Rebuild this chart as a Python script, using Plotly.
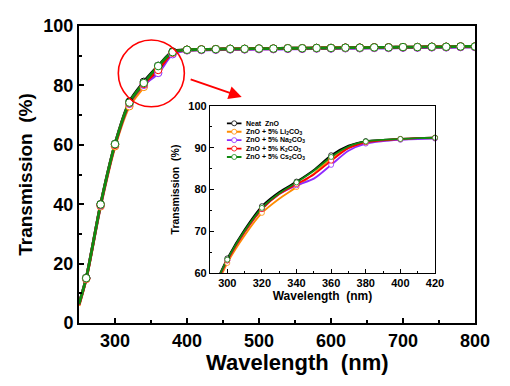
import plotly.graph_objects as go

# ---------------- data ----------------
series_names = [
    "Neat\u00a0 ZnO",
    "ZnO + 5% Li<sub>2</sub>CO<sub>3</sub>",
    "ZnO + 5% Na<sub>2</sub>CO<sub>3</sub>",
    "ZnO + 5% K<sub>2</sub>CO<sub>3</sub>",
    "ZnO + 5% Cs<sub>2</sub>CO<sub>3</sub>",
]
series_colors = ["#000000", "#FF8C00", "#8F2BFF", "#FF0000", "#118A11"]

# main panel (250-800 nm)
main_wl = [250, 260, 280, 300, 320, 340, 360, 380, 400, 420, 440, 460, 480, 500,
           520, 540, 560, 580, 600, 620, 640, 660, 680, 700, 720, 740, 760, 780, 800]
plateau = [92.1, 92.2, 92.3, 92.3, 92.4, 92.4, 92.5, 92.5, 92.6, 92.6, 92.7,
           92.7, 92.8, 92.8, 92.9, 92.9, 93.0, 93.0, 93.1, 93.1]
main_neat = [6.5, 15.2, 40.0, 60.3, 74.5, 81.2, 86.6, 91.4, 92.0] + plateau
main_li = [5.8, 14.8, 39.3, 59.5, 73.0, 79.5, 85.8, 90.8, 91.9] + [v - 0.1 for v in plateau]
main_na = [6.2, 15.0, 39.6, 60.0, 73.8, 80.2, 84.2, 90.5, 91.8] + [v - 0.2 for v in plateau]
main_k = [6.2, 15.0, 39.8, 60.0, 74.0, 80.5, 85.2, 91.0, 92.0] + plateau
main_cs = [6.4, 15.1, 39.9, 60.2, 74.2, 80.8, 86.5, 91.2, 92.0] + plateau
main_series = [main_neat, main_li, main_na, main_k, main_cs]

# inset panel (290-420 nm)
inset_wl = [290, 295, 300, 310, 320, 330, 340, 350, 360, 370, 380, 390, 400, 410, 420]
inset_neat = [54.8, 59.2, 63.5, 70.4, 76.0, 79.4, 81.9, 84.7, 88.2, 90.5, 91.6, 91.9, 92.1, 92.3, 92.4]
inset_li = [53.5, 58.0, 62.4, 69.0, 74.4, 77.8, 80.6, 83.8, 87.4, 90.0, 91.2, 91.7, 92.0, 92.2, 92.3]
inset_na = [54.2, 58.7, 63.0, 69.8, 75.3, 78.9, 81.0, 82.6, 85.9, 89.3, 91.0, 91.6, 91.9, 92.1, 92.2]
inset_k = [54.3, 58.8, 63.0, 69.8, 75.3, 78.9, 81.3, 83.6, 86.9, 89.9, 91.3, 91.8, 92.1, 92.3, 92.4]
inset_cs = [54.5, 59.0, 63.2, 70.1, 75.6, 79.1, 81.7, 84.5, 87.8, 90.3, 91.5, 91.9, 92.1, 92.3, 92.4]
inset_series = [inset_neat, inset_li, inset_na, inset_k, inset_cs]

main_x_ticks = [300, 400, 500, 600, 700, 800]
main_y_ticks = [0, 20, 40, 60, 80, 100]
inset_x_ticks = [300, 320, 340, 360, 380, 400, 420]
inset_y_ticks = [60, 70, 80, 90, 100]

# ---------------- layout helpers ----------------
# the page body adds an 8 px margin, so the figure itself is 8 px smaller
OFF = 8
W, H = 510 - OFF, 386 - OFF
L, R, T, B = 79 - OFF, 475 - OFF, 26 - OFF, 323 - OFF
def fx(px):
    return (px - OFF - L) / (R - L)
def fy(py):
    return (B - (py - OFF)) / (B - T)

FONT = "Arial, Liberation Sans, sans-serif"

fig = go.Figure()

# main curves
for name, col, ys in zip(series_names, series_colors, main_series):
    fig.add_trace(go.Scatter(x=main_wl, y=ys, mode="lines", line=dict(color=col, width=2.8, shape="spline", smoothing=0.8),
                             xaxis="x", yaxis="y", showlegend=False, hoverinfo="skip"))
for name, col, ys in zip(series_names, series_colors, main_series):
    fig.add_trace(go.Scatter(x=main_wl[1:], y=ys[1:], mode="markers",
                             marker=dict(size=7.5, color="white", line=dict(color=col, width=1)),
                             xaxis="x", yaxis="y", showlegend=False, hoverinfo="skip"))

# inset curves
for name, col, ys in zip(series_names, series_colors, inset_series):
    fig.add_trace(go.Scatter(x=inset_wl, y=ys, mode="lines", line=dict(color=col, width=1.8, shape="spline", smoothing=0.8),
                             xaxis="x2", yaxis="y2", showlegend=False, hoverinfo="skip"))
for name, col, ys in zip(series_names, series_colors, inset_series):
    mx = [x for x in inset_wl if x >= 300 and x % 20 == 0]
    my = [y for x, y in zip(inset_wl, ys) if x >= 300 and x % 20 == 0]
    fig.add_trace(go.Scatter(x=mx, y=my, mode="markers",
                             marker=dict(size=5, color="white", line=dict(color=col, width=0.8)),
                             xaxis="x2", yaxis="y2", showlegend=False, hoverinfo="skip", cliponaxis=False))

# inset legend keys (on a hidden helper axis, one row per series)
for i, (name, col) in enumerate(zip(series_names, series_colors)):
    fig.add_trace(go.Scatter(x=[0, 1], y=[i, i], mode="lines", line=dict(color=col, width=1.8),
                             xaxis="x3", yaxis="y3", showlegend=False, hoverinfo="skip"))
    fig.add_trace(go.Scatter(x=[0.5], y=[i], mode="markers",
                             marker=dict(size=5, color="white", line=dict(color=col, width=0.8)),
                             xaxis="x3", yaxis="y3", showlegend=False, hoverinfo="skip", cliponaxis=False))

annotations = []
for i, name in enumerate(series_names):
    annotations.append(dict(x=1, y=i, xref="x3", yref="y3", text=name, showarrow=False,
                            xanchor="left", yanchor="middle", xshift=2,
                            font=dict(family=FONT, size=7, color="black", weight="bold")))

# main x-axis title (placed slightly right of centre, as in the reference)
annotations.append(dict(x=fx(297), y=fy(362.7), xref="paper", yref="paper", text="Wavelength\u00a0 (nm)",
                        showarrow=False, xanchor="center", yanchor="middle",
                        font=dict(family=FONT, size=22, color="black", weight="bold")))

# red arrow from the circle to the inset
annotations.append(dict(x=476, y=76.1, xref="x", yref="y", ax=403, ay=82.2, axref="x", ayref="y",
                        text="", showarrow=True, arrowhead=2, arrowsize=1.3, arrowwidth=2, arrowcolor="#FF0000"))

axis_common = dict(showline=True, linecolor="black", mirror=True, showgrid=False, zeroline=False,
                   ticks="inside", tickcolor="black", automargin=False)

fig.update_layout(
    width=W, height=H,
    margin=dict(l=L, r=W - R, t=T, b=H - B, autoexpand=False),
    paper_bgcolor="white", plot_bgcolor="white",
    showlegend=False,
    xaxis=dict(**axis_common, domain=[0, 1], range=[250, 800], tickvals=main_x_ticks,
               linewidth=2, tickwidth=1.5, ticklen=5,
               minor=dict(ticks="inside", dtick=50, tick0=0, ticklen=3, tickwidth=1.5, tickcolor="black"),
               tickfont=dict(family=FONT, size=18, color="black", weight="bold")),
    yaxis=dict(**axis_common, domain=[0, 1], range=[0, 100], tickvals=main_y_ticks,
               linewidth=2, tickwidth=1.5, ticklen=5,
               minor=dict(ticks="inside", dtick=10, tick0=0, ticklen=3, tickwidth=1.5, tickcolor="black"),
               tickfont=dict(family=FONT, size=18, color="black", weight="bold"),
               title=dict(text="Transmission\u00a0 (%)", standoff=6,
                          font=dict(family=FONT, size=19, color="black", weight="bold"))),
    xaxis2=dict(**axis_common, anchor="y2", domain=[fx(210), fx(435)], range=[290, 420], tickvals=inset_x_ticks,
                linewidth=1.3, tickwidth=1, ticklen=4,
                minor=dict(ticks="inside", dtick=10, tick0=0, ticklen=2, tickwidth=1, tickcolor="black"),
                tickfont=dict(family=FONT, size=11, color="black", weight="bold"),
                title=dict(text="Wavelength\u00a0 (nm)", standoff=2,
                           font=dict(family=FONT, size=12, color="black", weight="bold"))),
    yaxis2=dict(**axis_common, anchor="x2", domain=[fy(273), fy(106)], range=[60, 100], tickvals=inset_y_ticks,
                linewidth=1.3, tickwidth=1, ticklen=4,
                minor=dict(ticks="inside", dtick=5, tick0=0, ticklen=2, tickwidth=1, tickcolor="black"),
                tickfont=dict(family=FONT, size=11, color="black", weight="bold"),
                title=dict(text="Transmission\u00a0 (%)", standoff=6,
                           font=dict(family=FONT, size=10.5, color="black", weight="bold"))),
    xaxis3=dict(visible=False, anchor="y3", domain=[fx(226.7), fx(241.7)], range=[0, 1], fixedrange=True),
    yaxis3=dict(visible=False, anchor="x3", domain=[fy(161.2), fy(119.1)], range=[4.5, -0.5], fixedrange=True),
    annotations=annotations,
    shapes=[dict(type="circle", xref="x", yref="y", x0=304.6, x1=396.3, y0=72.8, y1=95.3,
                 line=dict(color="#FF0000", width=1.6))],
)

fig.write_html("out.html")
